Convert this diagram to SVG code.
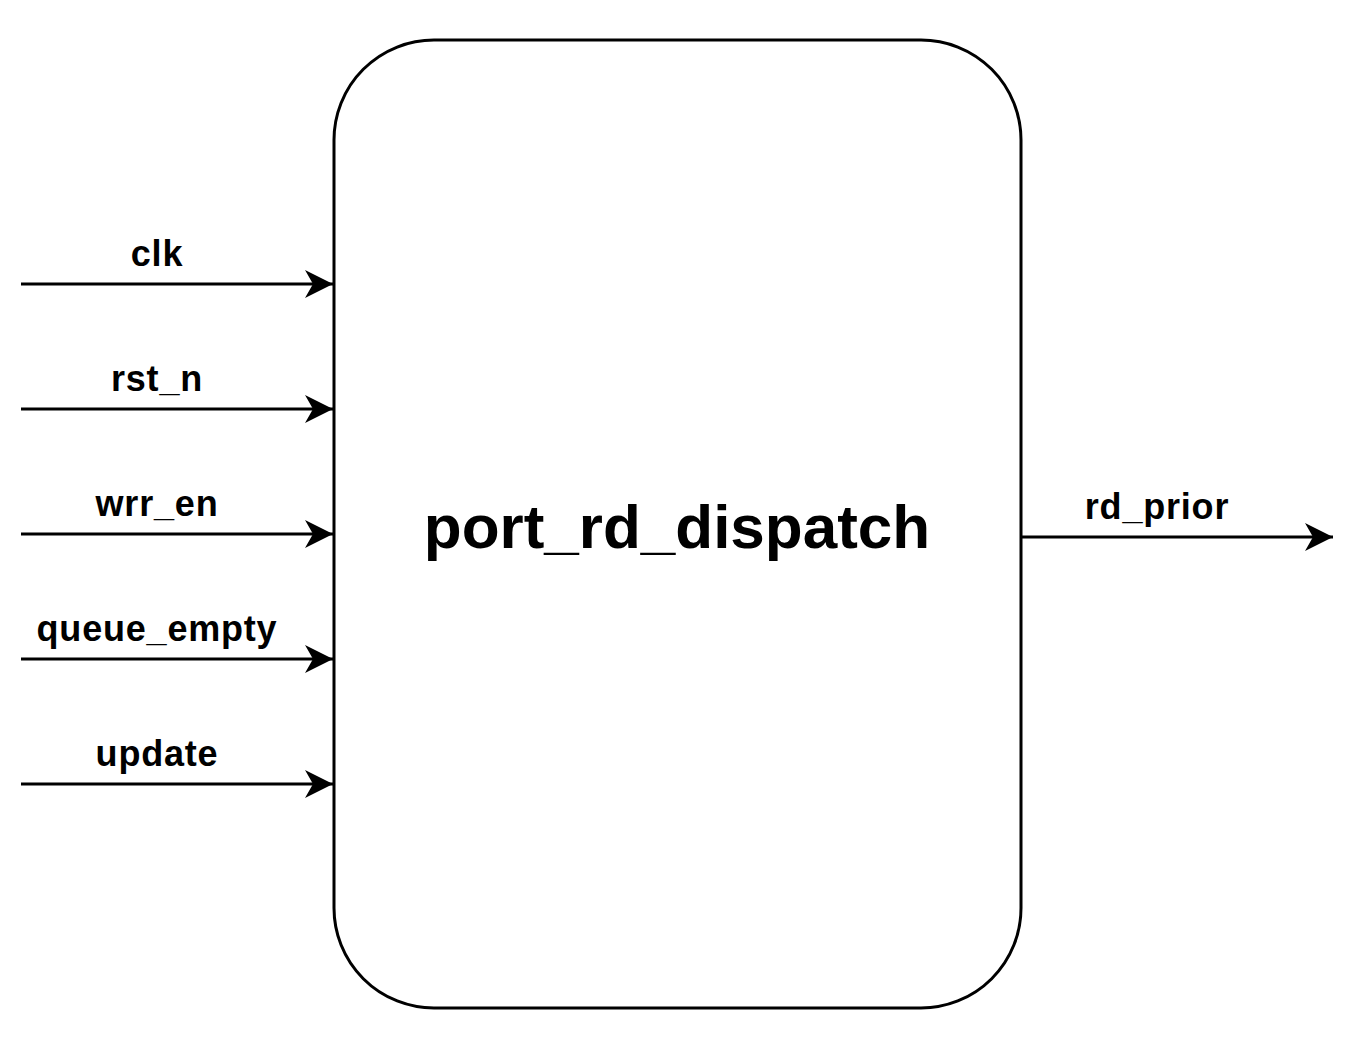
<svg xmlns="http://www.w3.org/2000/svg" width="1357" height="1055" viewBox="0 0 1357 1055">
<style>
.box{fill:#fff;stroke:#000;stroke-width:3}
.wire{stroke:#000;stroke-width:3;fill:none}
.lbl{font-family:"Liberation Sans",Arial,sans-serif;font-weight:bold;font-size:36px;letter-spacing:0.8px;fill:#000;text-anchor:middle}
.title{font-family:"Liberation Sans",Arial,sans-serif;font-weight:bold;font-size:62px;fill:#000;text-anchor:middle}
</style>
<defs>
<marker id="arr" markerUnits="userSpaceOnUse" markerWidth="30" markerHeight="30" refX="28" refY="14" orient="auto" overflow="visible">
<path d="M28 14 L0 0 L8 14 L0 28 Z" fill="#000"/>
</marker>
</defs>
<rect width="1357" height="1055" fill="#fff"/>
<g id="port_rd_dispatch">
<rect class="box" x="334" y="40" width="687" height="968" rx="100" ry="100"/>
<text class="title" x="677" y="548">port_rd_dispatch</text>
</g>
<g id="connectors">
<line class="wire" x1="21" y1="284" x2="333" y2="284" marker-end="url(#arr)"/>
<line class="wire" x1="21" y1="409" x2="333" y2="409" marker-end="url(#arr)"/>
<line class="wire" x1="21" y1="534" x2="333" y2="534" marker-end="url(#arr)"/>
<line class="wire" x1="21" y1="659" x2="333" y2="659" marker-end="url(#arr)"/>
<line class="wire" x1="21" y1="784" x2="333" y2="784" marker-end="url(#arr)"/>
<line class="wire" x1="1021" y1="537" x2="1333" y2="537" marker-end="url(#arr)"/>
</g>
<g id="labels">
<text class="lbl" x="157" y="266">clk</text>
<text class="lbl" x="157" y="391">rst_n</text>
<text class="lbl" x="157" y="516">wrr_en</text>
<text class="lbl" x="157" y="641">queue_empty</text>
<text class="lbl" x="157" y="766">update</text>
<text class="lbl" x="1157" y="519">rd_prior</text>
</g>
</svg>
